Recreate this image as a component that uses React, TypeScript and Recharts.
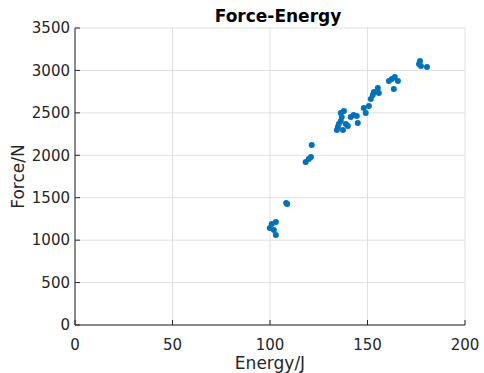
import React from 'react';
import { ScatterChart, Scatter, XAxis, YAxis, CartesianGrid } from 'recharts';

const energy = [99.9, 100.9, 103, 102, 103, 108.3, 108.8, 118.3, 119.9, 121, 121.4, 134.3, 134.8, 135.3, 136.3, 136.8, 136.3, 137.9, 137.4, 138.9, 139.9, 141.4, 142.9, 144.5, 145, 148.1, 149.1, 150.7, 151.7, 152.7, 153.3, 155.3, 155.8, 161, 162.5, 164, 163.5, 165.6, 176.9, 177.4, 180.5, 176.4];
const force = [1143, 1190, 1214, 1120, 1060, 1438, 1426, 1921, 1956, 1980, 2121, 2298, 2333, 2369, 2404, 2451, 2498, 2522, 2298, 2369, 2345, 2451, 2475, 2463, 2380, 2557, 2498, 2581, 2663, 2710, 2746, 2793, 2734, 2875, 2899, 2922, 2781, 2875, 3111, 3052, 3040, 3076];
const xTicks = [0, 50, 100, 150, 200];
const yTicks = [0, 500, 1000, 1500, 2000, 2500, 3000, 3500];

const data = energy.map((e, i) => ({ energy: e, force: force[i] }));

const AXIS = '#262626';
const FONT = 'DejaVu Sans';

const XTick = (props: any) => {
  const { x, y, payload } = props;
  return (
    <g>
      <line x1={x} x2={x} y1={y - 14} y2={y - 19} stroke={AXIS} strokeWidth={1} />
      <text x={x} y={y} dy="0.71em" textAnchor="middle" fontFamily={FONT} fontSize={15} fill={AXIS}>
        {payload.value}
      </text>
    </g>
  );
};

const YTick = (props: any) => {
  const { x, y, payload } = props;
  return (
    <g>
      <line x1={x + 5} x2={x + 10} y1={y} y2={y} stroke={AXIS} strokeWidth={1} />
      <text x={x} y={y} dy="0.355em" textAnchor="end" fontFamily={FONT} fontSize={15} fill={AXIS}>
        {payload.value}
      </text>
    </g>
  );
};

export default function App() {
  return (
    <div style={{ position: 'absolute', left: 0, top: 0, width: 484, height: 373, background: '#fff' }}>
      <div
        style={{
          position: 'absolute',
          left: 83,
          width: 390,
          top: 6,
          textAlign: 'center',
          fontFamily: FONT,
          fontWeight: 'bold',
          fontSize: 17,
          color: '#000',
          lineHeight: '20px',
        }}
      >
        Force-Energy
      </div>
      <ScatterChart width={484} height={373} margin={{ top: 28, right: 19, bottom: 0, left: 0 }}>
        <CartesianGrid stroke="#dfdfdf" strokeWidth={1} />
        <XAxis
          type="number"
          dataKey="energy"
          domain={[0, 200]}
          ticks={xTicks}
          height={48}
          tickSize={0}
          tickMargin={14}
          tickLine={false}
          axisLine={{ stroke: AXIS, strokeWidth: 1 }}
          tick={<XTick />}
          label={{
            content: (p: any) => {
              const vb = p.viewBox || { x: 75, width: 390 };
              return (
                <text x={vb.x + vb.width / 2} y={369} textAnchor="middle" fontFamily={FONT} fontSize={17} fill={AXIS}>
                  Energy/J
                </text>
              );
            },
          }}
        />
        <YAxis
          type="number"
          dataKey="force"
          domain={[0, 3500]}
          ticks={yTicks}
          width={75}
          tickSize={0}
          tickMargin={5}
          tickLine={false}
          axisLine={{ stroke: AXIS, strokeWidth: 1 }}
          tick={<YTick />}
          label={{
            content: (p: any) => {
              const vb = p.viewBox || { y: 28, height: 297 };
              const cy = vb.y + vb.height / 2;
              return (
                <text x={24} y={cy} transform={`rotate(-90, 24, ${cy})`} textAnchor="middle" fontFamily={FONT} fontSize={17} fill={AXIS}>
                  Force/N
                </text>
              );
            },
          }}
        />
        <Scatter data={data} fill="#0072BD" isAnimationActive={false} shape={(p: any) => <circle cx={p.cx} cy={p.cy} r={3} fill="#0072BD" />} />
      </ScatterChart>
    </div>
  );
}
